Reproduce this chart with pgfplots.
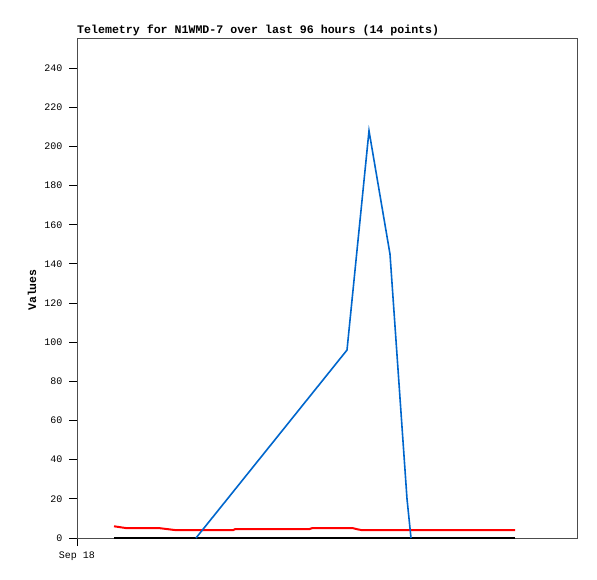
\documentclass[border=0pt]{standalone}
\usepackage{pgfplots}
\pgfplotsset{compat=1.18}
\usepackage{fontspec}
\setmainfont{Liberation Mono}
\setmonofont{Liberation Mono}
\definecolor{bl}{HTML}{0066CC}
\begin{document}
\begin{tikzpicture}[x=1pt,y=1pt]
\path[use as bounding box] (0,0) rectangle (597,579);
\begin{axis}[
  at={(77pt,41pt)}, anchor=south west,
  scale only axis, width=500pt, height=500pt,
  xmin=0, xmax=500, ymin=0, ymax=255.4,
  axis line style={black!70, line width=0.8pt},
  ytick={0,20,...,240},
  xtick={0}, xticklabels={Sep 18},
  tick align=outside,
  tick style={black, line width=0.9pt},
  major tick length=8pt,
  xtick pos=bottom, ytick pos=left,
  tick label style={font=\fontsize{10}{11}\selectfont},
  yticklabel style={xshift=-3pt},
  xticklabel style={yshift=-2pt},
  /pgf/number format/assume math mode=true,
  clip=false,
]
\addplot[black, line width=2pt] coordinates {(37,0) (438,0)};
\addplot[red, line width=2pt] coordinates {
(37,6) (42,5.6) (50,5) (83,5) (91,4.5) (99,4) (156,4) (158,4.5) (232,4.5) (235,5) (276,5) (280,4.5) (285,4) (438,4)};
\addplot[bl, line width=1.6pt] coordinates {
(119,0) (270,96) (292,208) (313,145) (330,20) (334,0)};
\end{axis}
\node[rotate=90, font=\bfseries\fontsize{11.5}{12}\selectfont, inner sep=0pt] at (32,289) {Values};
\node[anchor=base west, font=\bfseries\fontsize{11.6}{12}\selectfont, inner sep=0pt] at (77,545) {Telemetry for N1WMD-7 over last 96 hours (14 points)};
\end{tikzpicture}
\end{document}
